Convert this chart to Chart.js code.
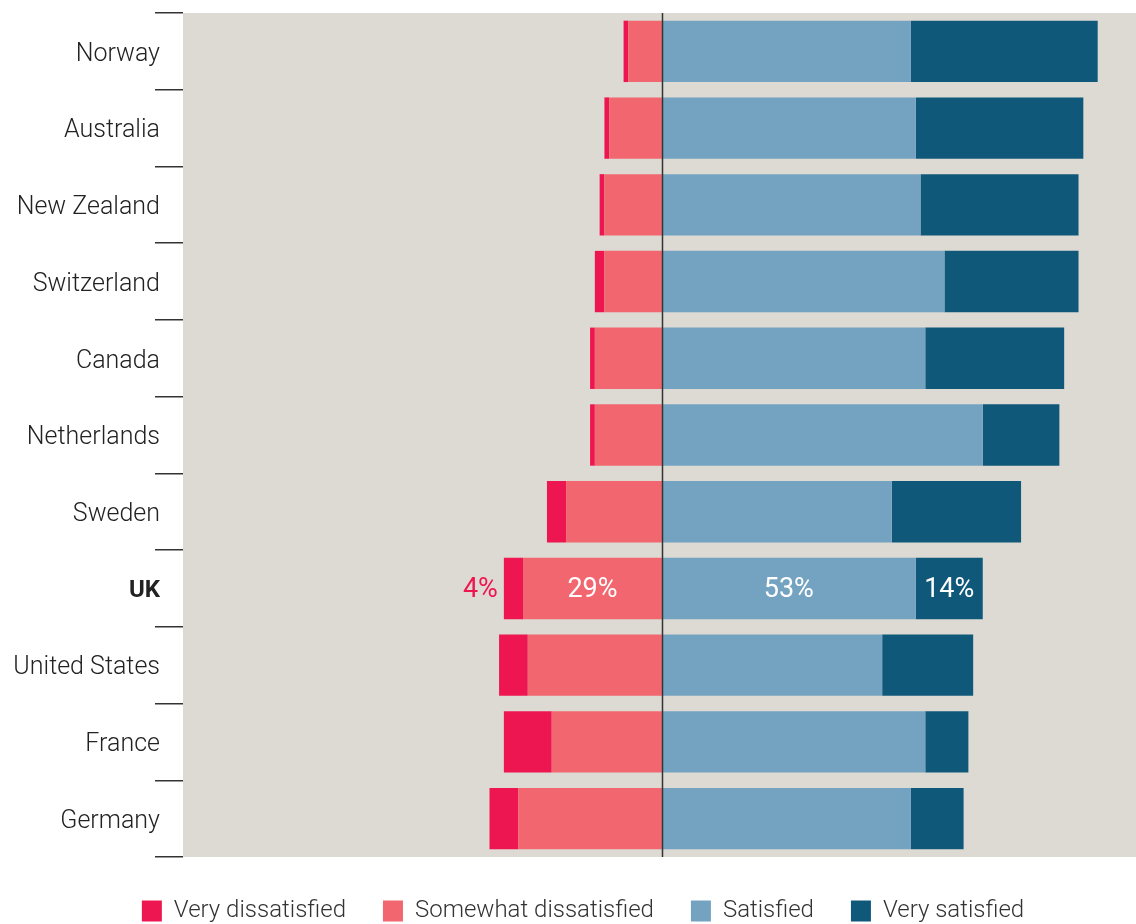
<!DOCTYPE html>
<html>
<head>
<meta charset="utf-8">
<title>Satisfaction by country</title>
<script src="https://cdn.jsdelivr.net/npm/chart.js@4/dist/chart.umd.min.js"></script>
<style>
  html, body { margin: 0; padding: 0; background: #fff; overflow: hidden; }
  #wrap { width: 1136px; height: 924px; overflow: hidden; }
</style>
</head>
<body>
<div id="wrap"><canvas id="chart" width="1136" height="933"></canvas></div>
<script>
// Share of respondents per answer, in percent
const countries = ['Norway', 'Australia', 'New Zealand', 'Switzerland', 'Canada', 'Netherlands', 'Sweden', 'UK', 'United States', 'France', 'Germany'];
const veryDissatisfied = [1, 1, 1, 2, 1, 1, 4, 4, 6, 10, 6];
const somewhatDissatisfied = [7, 11, 12, 12, 14, 14, 20, 29, 28, 23, 30];
const satisfied = [52, 53, 54, 59, 55, 67, 48, 53, 46, 55, 52];
const verySatisfied = [39, 35, 33, 28, 29, 16, 27, 14, 19, 9, 11];

const highlight = 'UK';

const colors = {
    veryDis: '#EE1651',
    someDis: '#F2666F',
    sat: '#74A3C2',
    verySat: '#10587A'
};

Chart.defaults.font.family = 'Roboto, "Noto Sans", sans-serif';
Chart.defaults.color = '#222';

// beige panel behind the bars
const panelBackground = {
    id: 'panelBackground',
    beforeDraw(chart) {
        const { ctx, chartArea } = chart;
        ctx.save();
        ctx.fillStyle = '#DDDAD3';
        ctx.fillRect(chartArea.left, chartArea.top, chartArea.right - chartArea.left, chartArea.bottom - chartArea.top);
        ctx.restore();
    }
};

// vertical line at zero, drawn over the bars
const zeroLine = {
    id: 'zeroLine',
    afterDatasetsDraw(chart) {
        const { ctx, chartArea, scales } = chart;
        const x = Math.round(scales.x.getPixelForValue(0)) + 0.5;
        ctx.save();
        ctx.strokeStyle = '#333';
        ctx.lineWidth = 1.5;
        ctx.beginPath();
        ctx.moveTo(x, chartArea.top);
        ctx.lineTo(x, chartArea.bottom);
        ctx.stroke();
        ctx.restore();
    }
};

// percentage labels on the highlighted row
const rowLabels = {
    id: 'rowLabels',
    afterDatasetsDraw(chart) {
        const { ctx } = chart;
        const idx = countries.indexOf(highlight);
        ctx.save();
        ctx.font = '400 27px Roboto, sans-serif';
        ctx.textBaseline = 'middle';
        chart.data.datasets.forEach((ds, i) => {
            const bar = chart.getDatasetMeta(i).data[idx];
            const text = Math.abs(ds.data[idx]) + '%';
            if (ds.label === 'Very dissatisfied') {
                ctx.fillStyle = colors.veryDis;
                ctx.textAlign = 'right';
                ctx.fillText(text, Math.min(bar.x, bar.base) - 6, bar.y + 2);
            } else {
                ctx.fillStyle = '#fff';
                ctx.textAlign = 'center';
                ctx.fillText(text, (bar.x + bar.base) / 2, bar.y + 2);
            }
        });
        ctx.restore();
    }
};

// nudge the legend row a little to the right
const legendShift = {
    id: 'legendShift',
    afterLayout(chart) {
        chart.legend.left += 15;
        chart.legend.right += 15;
    }
};

// legend order differs from stacking order
const legendRank = [1, 0, 2, 3];

new Chart(document.getElementById('chart'), {
    type: 'bar',
    data: {
        labels: countries,
        datasets: [
            { label: 'Somewhat dissatisfied', data: somewhatDissatisfied.map(v => -v), backgroundColor: colors.someDis },
            { label: 'Very dissatisfied', data: veryDissatisfied.map(v => -v), backgroundColor: colors.veryDis },
            { label: 'Satisfied', data: satisfied, backgroundColor: colors.sat },
            { label: 'Very satisfied', data: verySatisfied, backgroundColor: colors.verySat }
        ]
    },
    options: {
        indexAxis: 'y',
        responsive: false,
        animation: false,
        devicePixelRatio: 1,
        layout: { padding: { top: 13, right: 0, left: 0, bottom: 0 } },
        datasets: {
            bar: { categoryPercentage: 0.8, barPercentage: 1, borderWidth: 0 }
        },
        scales: {
            x: {
                stacked: true,
                min: -100,
                max: 99,
                grid: { display: false },
                border: { display: false },
                ticks: { display: false },
                afterFit(scale) { scale.height = 5; }
            },
            y: {
                stacked: true,
                grid: {
                    display: true,
                    drawOnChartArea: false,
                    drawTicks: true,
                    tickLength: 28,
                    color: '#333',
                    lineWidth: 1.5,
                    offset: true
                },
                border: { display: false },
                ticks: {
                    padding: -5,
                    labelOffset: 3,
                    color: '#222',
                    font: ctx => countries[ctx.index] === highlight
                        ? { size: 24, weight: 'bold' }
                        : { size: 25, weight: '300' }
                },
                afterFit(scale) { scale.width = 183; }
            }
        },
        plugins: {
            legend: {
                position: 'bottom',
                labels: {
                    boxWidth: 20,
                    boxHeight: 21,
                    padding: 37,
                    color: '#333',
                    font: { size: 24, weight: '300' },
                    sort: (a, b) => legendRank[a.datasetIndex] - legendRank[b.datasetIndex]
                }
            },
            tooltip: { enabled: false }
        }
    },
    plugins: [panelBackground, zeroLine, rowLabels, legendShift]
});
</script>
</body>
</html>
